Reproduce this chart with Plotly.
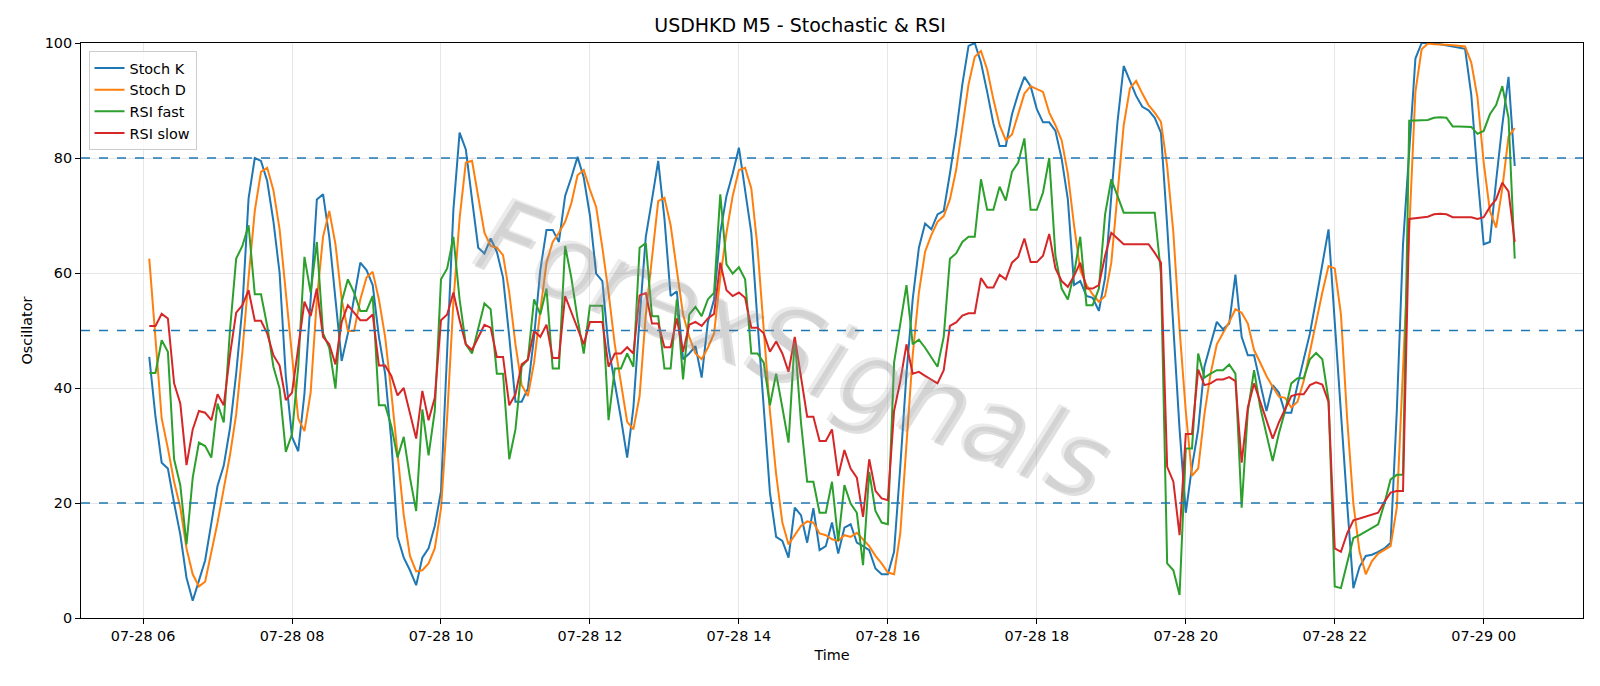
import pandas as pd
import plotly.graph_objects as go

START = "2025-07-28 06:05"
FREQ = "5min"

stoch_k = [
    45.4, 35, 27, 26, 20, 14.5, 7, 3, 6.5, 10,
    16.5, 23, 26.5, 33, 42.5, 54, 73, 80, 79.5, 76,
    69, 60, 42, 31.5, 29, 39, 55.4, 72.8, 73.7, 66.3,
    55.4, 44.7, 49.5, 55.4, 61.8, 60.5, 57.9, 48.9, 42.5, 30.8,
    14.1, 10.5, 8.3, 5.7, 10.5, 12.1, 16, 22, 46, 71,
    84.4, 81.5, 72.8, 64.4, 63.4, 66, 63.7, 59.2, 48.9, 37.6,
    37.6, 39.9, 48.9, 60.5, 67.5, 67.5, 65.4, 73.4, 76.6, 80.2,
    76.6, 70, 59.9, 58.6, 47, 41.2, 34.7, 27.9, 36.6, 52.1,
    66.3, 72.8, 79.5, 69.5, 56, 56.8, 45, 46, 47.3, 41.8,
    51.5, 55.4, 67, 73.4, 77.3, 81.8, 74.7, 67, 51.5, 36,
    21.8, 14.1, 13.4, 10.5, 19.2, 17.9, 13.1, 19.1, 11.8, 12.5,
    16.6, 11.2, 15.7, 16.3, 13.1, 12.5, 11.8, 8.6, 7.6, 7.6,
    11.5, 26.3, 42.5, 55.4, 64.4, 68.6, 67.6, 70.2, 70.8, 77.3,
    84.4, 92.8, 99.5, 100, 96.6, 91.5, 86, 82.1, 82.1, 87.6,
    91.2, 94.1, 92.5, 88.5, 86.2, 86.2, 84.7, 79.9, 72.8, 57.9,
    58.6, 56, 55.7, 53.4, 59.2, 73.4, 86.3, 96, 93.4, 90.8,
    88.9, 88.3, 87, 84.4, 68.3, 50.2, 32.8, 18.3, 26.3, 32.8,
    43.7, 47.6, 51.5, 50.2, 51.2, 59.7, 48.9, 45.7, 45.7, 40.8,
    36, 40.5, 39.2, 35.7, 35.7, 40.5, 45, 49.5, 55.4, 61.8,
    67.6, 51.5, 34.7, 19.9, 5.2, 8.9, 10.8, 11, 11.5, 12.1,
    13.1, 36, 65, 81.2, 97.3, 100, 100, 100, 99.8, 99.6,
    99.5, 99.3, 99, 91, 77, 65, 65.4, 76, 85.7, 94.1,
    78.6,
]

stoch_d = [
    62.5, 49, 34.7, 29.5, 23.7, 19.2, 12.1, 7.6, 5.5, 6.3,
    11.5, 16.6, 22.5, 28.3, 35.4, 46.3, 59.2, 70.8, 77.6, 78.3,
    74.4, 67.6, 56.6, 45.7, 34.7, 32.5, 39.2, 55.4, 66.3, 70.8,
    65, 55.4, 49.9, 49.9, 55.4, 59.2, 60.2, 55.4, 48.9, 39.2,
    28.3, 17.9, 10.8, 8.1, 8.3, 9.5, 12.1, 19, 35, 55,
    69.5, 79.2, 79.5, 73.4, 67, 64.7, 64.4, 63.1, 56.6, 47.6,
    40.5, 38.6, 44.4, 53.4, 61.8, 65.4, 67, 68.9, 72.1, 77,
    77.9, 74.5, 71.5, 64.4, 56.6, 47.6, 41.2, 34.1, 32.8, 38.6,
    52.8, 63.1, 72.5, 73.1, 68.3, 60.5, 52.8, 48.9, 46, 45,
    47, 49.5, 59.2, 67, 73.4, 77.9, 78.3, 74.7, 64.4, 50.2,
    36, 25, 16.6, 12.8, 14.4, 16, 16.8, 16.6, 14.7, 14.4,
    13.7, 13.4, 14.4, 14.1, 14.8, 13.7, 12.5, 10.8, 9.5, 7.9,
    7.6, 14.7, 29.5, 45.7, 56.6, 63.7, 66.6, 68.9, 69.9, 72.8,
    77.9, 85, 92.8, 97.6, 98.6, 95.4, 90.2, 85.7, 83.1, 84.1,
    87.6, 91.2, 92.5, 92, 91.5, 87.9, 85.7, 83.1, 77.3, 68.3,
    60.5, 57.9, 56.3, 55, 56, 61.8, 73.4, 85.7, 92.1, 93.4,
    91.2, 89.2, 87.9, 86.3, 78.6, 67, 50.2, 36, 24.7, 26,
    35.4, 42.5, 47.6, 49.5, 51.5, 53.7, 53.1, 51.2, 46.6, 44.4,
    42.1, 40.2, 38.5, 38.3, 36.6, 37.6, 41.2, 46.3, 51.5, 56.6,
    61.2, 60.8, 52.8, 34.7, 19.9, 11.5, 7.6, 9.9, 11.2, 11.8,
    12.5, 19.2, 42.5, 68.3, 91.5, 98.9, 99.9, 99.8, 99.8, 99.7,
    99.6, 99.5, 99.4, 96.6, 90.5, 79.2, 70.8, 67.9, 74.7, 83.7,
    85.2,
]

rsi_fast = [
    42.6, 42.6, 48.3, 46.3, 27.6, 23.1, 12.8, 24.4, 30.5, 29.9,
    27.9, 37.3, 34, 50, 62.5, 64.7, 68.3, 56.3, 56.3, 50.8,
    43.7, 39.9, 28.9, 32, 43.7, 62.8, 56.6, 65.4, 49.5, 47,
    39.9, 55, 58.9, 56.6, 53.4, 53.4, 56, 37, 37, 33.4,
    27.9, 31.5, 24.4, 18.6, 36.3, 28.3, 36, 58.9, 60.8, 66.3,
    55.4, 47.6, 46, 50.2, 54.7, 53.7, 42.5, 42.5, 27.6, 32.8,
    43.7, 45, 55.4, 52.8, 57.3, 43.4, 43.4, 64.7, 59.2, 52.1,
    46, 54.3, 54.3, 54.3, 34.4, 43.4, 43.4, 46, 43.7, 64.4,
    65.2, 52.5, 52.5, 43.4, 43.4, 55.4, 41.5, 52.8, 54.1, 52.5,
    55.4, 56.6, 73.7, 61.5, 59.9, 61, 58.9, 46, 46, 44.4,
    37, 42.5, 36.6, 30.5, 48.6, 34, 23.7, 23.7, 18.3, 18.3,
    23.7, 13.4, 23.1, 19.9, 18.3, 9.2, 25.4, 18.6, 16.6, 16.3,
    44.4, 50.8, 57.9, 47.6, 48.4, 47, 45.4, 43.7, 48.9, 62.5,
    63.4, 65.4, 66.3, 66.3, 76.3, 71, 71, 75, 72.6, 77.6,
    79.2, 83.4, 71, 71, 74, 80, 63, 57.3, 55.4, 59.9,
    66.3, 54.4, 54.4, 57.3, 70.2, 76.3, 73.4, 70.5, 70.5, 70.5,
    70.5, 70.5, 70.5, 59.9, 9.5, 8.3, 4, 29.5, 29.5, 46,
    41.8, 42.5, 43.1, 43.1, 44.1, 42.5, 19.2, 36, 43.1, 36.6,
    32.1, 27.3, 32.1, 36, 40.8, 41.7, 41.7, 45, 46.1, 45,
    38, 5.5, 5.2, 9.5, 13.9, 14.4, 15, 15.7, 16.3, 19.9,
    24.1, 24.9, 24.9, 86.5, 86.5, 86.5, 86.6, 87, 87.1, 87,
    85.5, 85.5, 85.5, 85.4, 84.2, 84.7, 87.6, 89.2, 92.5, 87,
    62.5,
]

rsi_slow = [
    50.8, 50.8, 52.9, 52.1, 40.8, 37.3, 26.6, 32.8, 36, 35.7,
    34.4, 38.9, 37, 45.7, 53.1, 54.4, 57, 51.7, 51.7, 49.5,
    45.7, 43.9, 37.9, 39.2, 47, 55, 52.5, 57.3, 48.9, 47.6,
    44.1, 51.5, 54.4, 53.1, 51.8, 51.8, 52.8, 43.9, 43.9, 42.1,
    38.7, 40, 35.4, 31.2, 39.5, 34.4, 38.3, 51.8, 52.8, 56.6,
    51.8, 47.6, 46.6, 48.9, 51, 50.5, 45.4, 45.4, 37, 38.9,
    44.1, 44.9, 49.9, 48.9, 51, 45.2, 45.2, 56, 53.1, 50.5,
    47.6, 51.5, 51.5, 51.5, 43.7, 46, 46, 47.1, 46, 56.1,
    56.5, 51.2, 51.2, 47.1, 47.1, 52.1, 46.3, 51, 51.5, 50.8,
    52.1, 52.9, 61.8, 57, 56, 56.6, 55.7, 50.5, 50.5, 49.5,
    46.3, 48.1, 46, 42.8, 48.9, 42.1, 35, 35, 30.8, 30.8,
    32.8, 24.7, 29.2, 26, 24.4, 17.6, 27.6, 22.1, 20.8, 20.5,
    36, 41.2, 47.6, 42.5, 42.8, 42.1, 41.5, 40.8, 43.1, 50.8,
    51.4, 52.6, 53, 53, 59.1, 57.5, 57.5, 59.7, 58.9, 61.8,
    62.8, 66, 61.9, 61.9, 63, 66.8, 60.8, 58.6, 57.6, 59.5,
    61.8, 57.3, 57.3, 57.9, 63, 67, 66, 65, 65, 65,
    65, 65, 63.5, 61.8, 26.3, 23.7, 14.4, 32, 32, 43.2,
    40.5, 40.8, 41.5, 41.5, 41.9, 41.2, 27, 36.6, 40.8, 37.6,
    34.7, 31.2, 34, 36.3, 38.6, 38.9, 38.9, 40.5, 41, 40.6,
    37.6, 12.1, 11.5, 14.7, 17, 17.3, 17.6, 17.9, 18.3, 20.2,
    21.8, 22.1, 22.1, 69.4, 69.5, 69.7, 69.8, 70.2, 70.3, 70.2,
    69.7, 69.7, 69.7, 69.7, 69.4, 69.7, 71.5, 72.8, 75.7, 74.2,
    65.4,
]

series_names = ["Stoch K", "Stoch D", "RSI fast", "RSI slow"]
series_colors = ["#1f77b4", "#ff7f0e", "#2ca02c", "#d62728"]
levels = [80, 50, 20]
y_ticks = [0, 20, 40, 60, 80, 100]

FONT = "DejaVu Sans"
FS = 14.4

fig = go.Figure()
for name, vals, col in zip(series_names, [stoch_k, stoch_d, rsi_fast, rsi_slow], series_colors):
    t = pd.date_range(START, periods=len(vals), freq=FREQ)
    fig.add_trace(go.Scatter(x=t, y=vals, mode="lines", name=name,
                             line=dict(color=col, width=2)))

for lv in levels:
    fig.add_shape(type="line", xref="paper", x0=0, x1=1, yref="y", y0=lv, y1=lv,
                  line=dict(color="#1f77b4", width=1.3, dash="dash"), layer="above")

# watermark (shadow + light text)
for dx, dy, colr in [(3, -3, "rgba(110,110,110,0.22)"), (0, 0, "rgba(170,170,170,0.22)")]:
    fig.add_annotation(text="<i>ForexSignals</i>", xref="paper", yref="paper",
                       x=0.474, y=0.47, xshift=dx, yshift=dy,
                       showarrow=False, textangle=21,
                       font=dict(family=FONT, size=104, color=colr))

t_all = pd.date_range(START, periods=len(stoch_k), freq=FREQ)
span = t_all[-1] - t_all[0]
pad = span * 0.05
x_range = [t_all[0] - pad, t_all[-1] + pad]

fig.update_layout(
    width=1600, height=686,
    margin=dict(l=81, r=17, t=43, b=68),
    paper_bgcolor="white", plot_bgcolor="white",
    font=dict(family=FONT, size=FS, color="black"),
    title=dict(text="USDHKD M5 - Stochastic & RSI", x=0.5, xanchor="center",
               y=1 - 25.5 / 686, yanchor="middle", font=dict(size=19, color="black")),
    showlegend=True,
    legend=dict(x=0.005, y=0.986, xanchor="left", yanchor="top",
                bgcolor="rgba(255,255,255,0.8)", bordercolor="#cccccc", borderwidth=1,
                font=dict(size=FS), tracegroupgap=0, itemwidth=30),
    xaxis=dict(type="date", range=x_range, tick0="2025-07-28 06:00", dtick=7200000,
               tickformat="%m-%d %H", showgrid=True, gridcolor="rgba(176,176,176,0.3)",
               gridwidth=1, showline=True, linecolor="black", linewidth=1, mirror=True,
               ticks="outside", ticklen=5, tickcolor="black", zeroline=False,
               title=dict(text="Time", font=dict(size=FS), standoff=6),
               tickfont=dict(size=FS)),
    yaxis=dict(range=[0, 100], tickvals=y_ticks, showgrid=True,
               gridcolor="rgba(176,176,176,0.3)", gridwidth=1, showline=True,
               linecolor="black", linewidth=1, mirror=True, ticks="outside", ticklen=5,
               tickcolor="black", zeroline=False,
               title=dict(text="Oscillator", font=dict(size=FS), standoff=8),
               tickfont=dict(size=FS)),
)

fig.write_html("out.html")
